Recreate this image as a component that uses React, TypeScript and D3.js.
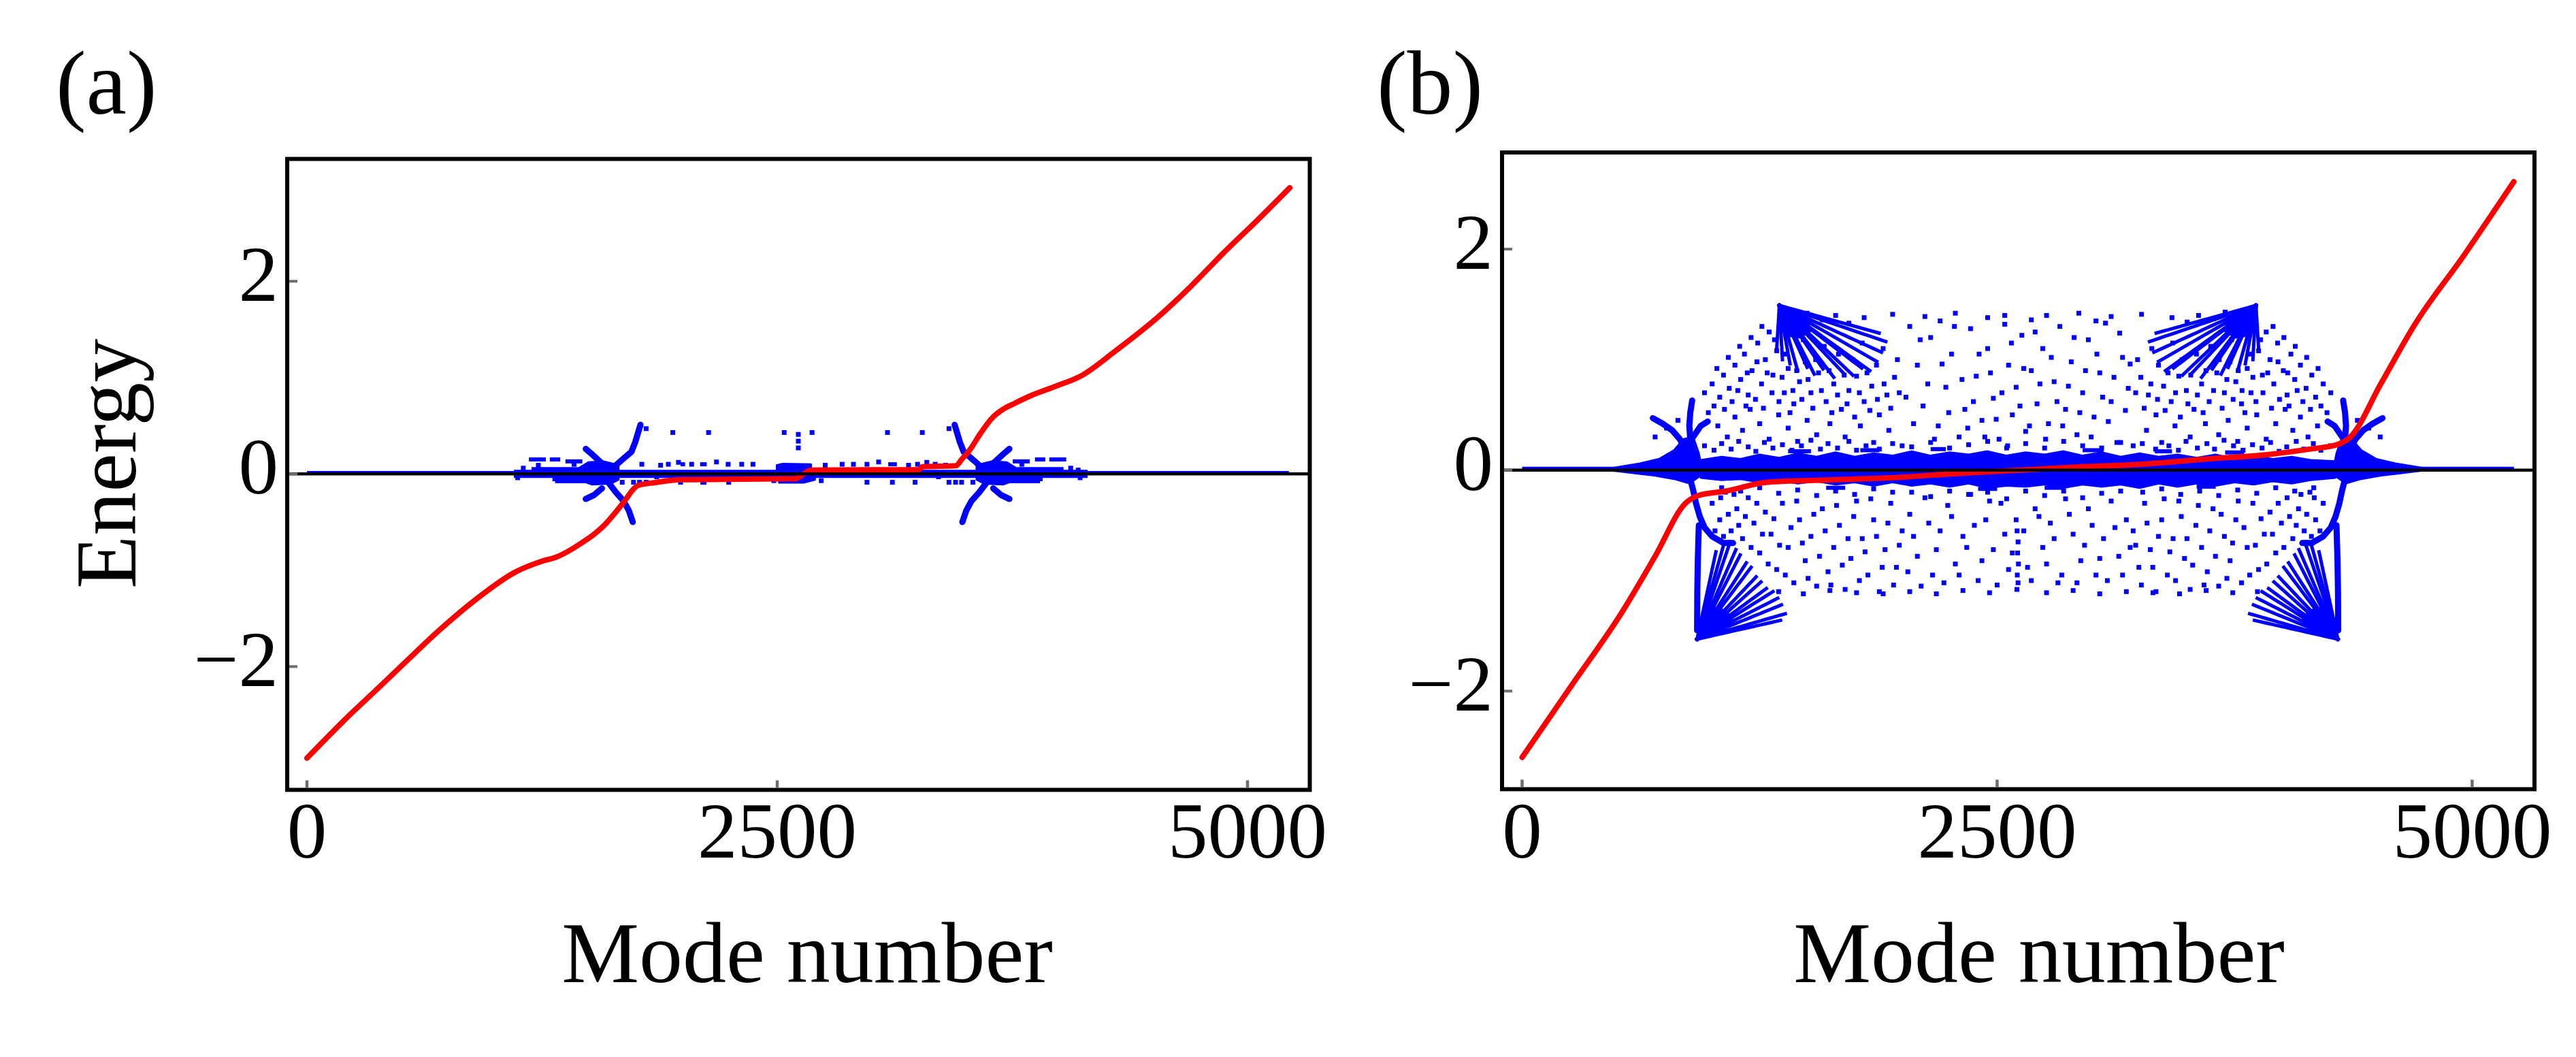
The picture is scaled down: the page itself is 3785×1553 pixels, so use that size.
import React from "react";
import * as d3 from "d3";

type Pt = [number, number];
type Bar = [number, number, number];
type Fan = { tip: Pt; ends: Pt[] };

const W = 3785;
const H = 1553;
const FONT = "'Liberation Serif', Tinos, 'Times New Roman', Times, 'DejaVu Serif', serif";
const BLUE = "#0000ff";
const RED = "#ff0000";
const TICK = "#6e6e6e";

const xTickValues = [0, 2500, 5000];
const yTickValues = [-2, 0, 2];
const xAxisTitle = "Mode number";
const yAxisTitle = "Energy";

// ---------------- panel (a) ----------------
const redA: Pt[] = [
  [0, -2.95], [228, -2.5], [359, -2.26], [520, -1.96], [705, -1.62], [900, -1.3], [1107, -1.02],
  [1244, -0.91], [1330, -0.86], [1400, -0.79], [1465, -0.71], [1530, -0.62], [1577, -0.54],
  [1640, -0.4], [1700, -0.25], [1730, -0.17], [1760, -0.12], [1850, -0.09], [1986, -0.06],
  [2594, -0.05], [2640, 0.0], [2677, 0.04], [3253, 0.045], [3270, 0.075], [3450, 0.085],
  [3480, 0.15], [3524, 0.25], [3580, 0.42], [3647, 0.59], [3700, 0.67], [3759, 0.73],
  [3857, 0.82], [3980, 0.91], [4117, 1.02], [4300, 1.28], [4519, 1.62], [4700, 1.95],
  [4865, 2.28], [5050, 2.63], [5224, 2.97],
];

const baseA: Pt[][] = [
  [[0, 0.015], [5220, 0.015]],
  [[1100, 0.027], [4150, 0.027]],
  [[1100, -0.026], [4150, -0.026]],
];

const barsA: Bar[] = [
  [3752, 3842, 0.13], [3870, 3925, 0.15], [3946, 4036, 0.15], [3731, 3911, -0.055],
  [3773, 4022, 0.05], [3620, 3897, -0.075],
  [1374, 1464, 0.13], [1291, 1346, 0.15], [1180, 1270, 0.15], [1305, 1485, -0.055],
  [1194, 1443, 0.05], [1319, 1596, -0.075],
  [1986, 2010, 0.1], [2090, 2125, 0.1], [3090, 3136, 0.1],
];

const blobsA: Pt[][] = [
  [[2498, 0.09], [2530, 0.105], [2679, 0.1], [2679, 0.03], [2498, 0.03]],
  [[2510, -0.03], [2700, -0.03], [2700, -0.06], [2640, -0.09], [2510, -0.09]],
  [[3560, 0.09], [3640, 0.13], [3720, 0.12], [3770, 0.06], [3770, -0.06], [3700, -0.11], [3600, -0.1], [3560, -0.06]],
  [[1656, 0.09], [1576, 0.13], [1496, 0.12], [1446, 0.06], [1446, -0.06], [1516, -0.11], [1616, -0.1], [1656, -0.06]],
];

const branchesA: Pt[][] = [
  [[3443, 0.51], [3457, 0.42], [3471, 0.33], [3491, 0.23], [3533, 0.16], [3574, 0.09], [3610, 0.03]],
  [[3484, -0.5], [3505, -0.38], [3533, -0.28], [3574, -0.19], [3609, -0.1], [3625, -0.02]],
  [[3648, 0.11], [3704, 0.21], [3734, 0.26]],
  [[3648, -0.15], [3690, -0.22], [3734, -0.26]],
  [[1773, 0.51], [1759, 0.42], [1745, 0.33], [1725, 0.23], [1683, 0.16], [1642, 0.09], [1606, 0.03]],
  [[1732, -0.5], [1711, -0.38], [1683, -0.28], [1642, -0.19], [1607, -0.1], [1591, -0.02]],
  [[1568, 0.11], [1512, 0.21], [1482, 0.26]],
  [[1568, -0.15], [1526, -0.22], [1482, -0.26]],
];

const fansA: Fan[] = [];

const dotsA: Pt[] = [
  [1803, 0.47], [1945, 0.43], [2135, 0.43], [2537, 0.43], [2685, 0.43], [3086, 0.43], [3271, 0.43], [3413, 0.47],
  [2612, 0.41], [2612, 0.34], [2612, 0.27],
  [1780, 0.1], [1880, 0.09], [1921, 0.1], [1975, 0.12], [2045, 0.1], [2177, 0.124], [2239, 0.1],
  [2311, 0.1], [2371, 0.1], [2755, 0.09], [2845, 0.1], [2905, 0.1], [2977, 0.1], [3039, 0.124],
  [3198, 0.09], [3246, 0.1], [3295, 0.12], [3340, 0.1], [3395, 0.09],
  [1986, -0.087], [2111, -0.087], [2242, -0.087], [2482, -0.07], [2734, -0.07], [2977, -0.087],
  [3112, -0.087], [3233, -0.087], [3357, -0.03], [3413, -0.087], [3448, -0.087], [3480, -0.087],
  [3540, -0.087], [1859, -0.03], [1803, -0.087], [1768, -0.087], [1736, -0.087], [1676, -0.087],
  [1596, -0.087], [2104, -0.087], [1150, 0.06], [1230, 0.09], [1420, 0.1], [3800, 0.1], [4060, 0.06],
  [4100, 0.04], [1120, -0.04], [4110, -0.04],
];

// ---------------- panel (b) ----------------
const redB: Pt[] = [
  [0, -2.6], [260, -1.95], [524, -1.29], [700, -0.78], [860, -0.3], [928, -0.23], [1072, -0.19],
  [1292, -0.11], [1600, -0.09], [1933, -0.07], [2300, -0.03], [2625, 0.0], [2950, 0.03],
  [3231, 0.05], [3600, 0.1], [3923, 0.14], [4144, 0.19], [4288, 0.23], [4359, 0.3],
  [4519, 0.78], [4695, 1.31], [4959, 1.95], [5219, 2.61],
];

const baseB: Pt[][] = [[[0, 0.017], [5220, 0.017]]];

const barsB: Bar[] = [
  [1400, 1520, 0.17], [1780, 1880, 0.18], [2150, 2230, 0.19], [2950, 3060, 0.18], [3330, 3420, 0.17],
  [3700, 3800, 0.16], [1600, 1700, -0.16], [2400, 2500, -0.17], [2750, 2850, -0.16], [3550, 3650, -0.15],
];

const blobsB: Pt[][] = [
  [[940, 0.09], [1050, 0.12], [1150, 0.1], [1250, 0.14], [1350, 0.11], [1450, 0.15], [1550, 0.12],
   [1650, 0.16], [1750, 0.12], [1850, 0.15], [1950, 0.13], [2050, 0.17], [2150, 0.13], [2250, 0.16],
   [2350, 0.14], [2450, 0.17], [2550, 0.13], [2650, 0.16], [2750, 0.14], [2850, 0.17], [2950, 0.13],
   [3050, 0.16], [3150, 0.12], [3250, 0.15], [3350, 0.12], [3450, 0.14], [3550, 0.11], [3650, 0.14],
   [3750, 0.1], [3850, 0.13], [3950, 0.1], [4050, 0.12], [4150, 0.09], [4280, 0.08],
   [4280, -0.07], [4150, -0.09], [4050, -0.12], [3950, -0.1], [3850, -0.13], [3750, -0.11], [3650, -0.14],
   [3550, -0.12], [3450, -0.15], [3350, -0.12], [3250, -0.16], [3150, -0.13], [3050, -0.15], [2950, -0.13],
   [2850, -0.16], [2750, -0.13], [2650, -0.15], [2550, -0.14], [2450, -0.16], [2350, -0.12], [2250, -0.15],
   [2150, -0.12], [2050, -0.14], [1950, -0.11], [1850, -0.14], [1750, -0.11], [1650, -0.13], [1550, -0.1],
   [1450, -0.12], [1350, -0.09], [1250, -0.11], [1150, -0.08], [1050, -0.09], [940, -0.07]],
  [[480, 0.02], [620, 0.06], [720, 0.1], [800, 0.18], [850, 0.28], [900, 0.3], [930, 0.15], [945, 0.02],
   [930, -0.06], [880, -0.12], [800, -0.08], [700, -0.05], [600, -0.03], [480, -0.005]],
  [[4736, 0.02], [4596, 0.06], [4496, 0.1], [4416, 0.18], [4366, 0.28], [4316, 0.3], [4286, 0.15], [4271, 0.02],
   [4286, -0.06], [4336, -0.12], [4416, -0.08], [4516, -0.05], [4616, -0.03], [4736, -0.005]],
  [[1350, 1.5], [1430, 1.44], [1500, 1.36], [1520, 1.26], [1460, 1.2], [1390, 1.22], [1350, 1.32]],
  [[3866, 1.5], [3786, 1.44], [3716, 1.36], [3696, 1.26], [3756, 1.2], [3826, 1.22], [3866, 1.32]],
  [[921, -1.53], [1000, -1.47], [1080, -1.42], [1110, -1.33], [1050, -1.26], [990, -1.24], [945, -1.36]],
  [[4293, -1.53], [4214, -1.47], [4134, -1.42], [4104, -1.33], [4164, -1.26], [4224, -1.24], [4269, -1.36]],
];

const fansB: Fan[] = [
  { tip: [1354, 1.49], ends: [[1340, 1.1], [1370, 1.0], [1410, 0.96], [1450, 0.9], [1500, 0.93], [1540, 0.86], [1590, 0.9], [1640, 0.84], [1690, 0.88], [1740, 0.86], [1790, 0.92], [1830, 0.9], [1870, 0.98], [1900, 1.06], [1920, 1.16], [1880, 1.24]] },
  { tip: [3862, 1.49], ends: [[3876, 1.1], [3846, 1.0], [3806, 0.96], [3766, 0.9], [3716, 0.93], [3676, 0.86], [3626, 0.9], [3576, 0.84], [3526, 0.88], [3476, 0.86], [3426, 0.92], [3386, 0.9], [3346, 0.98], [3316, 1.06], [3296, 1.16], [3336, 1.24]] },
  { tip: [921, -1.53], ends: [[1020, -0.74], [1060, -0.68], [1095, -0.65], [1125, -0.72], [1150, -0.76], [1180, -0.84], [1205, -0.88], [1235, -0.96], [1265, -1.0], [1295, -1.06], [1320, -1.1], [1345, -1.16], [1365, -1.22], [1385, -1.3], [1360, -1.36]] },
  { tip: [4293, -1.53], ends: [[4194, -0.74], [4154, -0.68], [4119, -0.65], [4089, -0.72], [4064, -0.76], [4034, -0.84], [4009, -0.88], [3979, -0.96], [3949, -1.0], [3919, -1.06], [3894, -1.1], [3869, -1.16], [3849, -1.22], [3829, -1.3], [3854, -1.36]] },
];

const branchesB: Pt[][] = [
  [[688, 0.47], [740, 0.42], [790, 0.36], [830, 0.28], [860, 0.18]],
  [[895, 0.63], [885, 0.52], [880, 0.4], [885, 0.28]],
  [[900, 0.3], [940, 0.4], [977, 0.44]],
  [[880, -0.05], [900, -0.18], [915, -0.3], [935, -0.42], [960, -0.52], [1000, -0.6], [1060, -0.66], [1110, -0.66]],
  [[4528, 0.47], [4476, 0.42], [4426, 0.36], [4386, 0.28], [4356, 0.18]],
  [[4321, 0.63], [4331, 0.52], [4336, 0.4], [4331, 0.28]],
  [[4316, 0.3], [4276, 0.4], [4239, 0.44]],
  [[4336, -0.05], [4316, -0.18], [4301, -0.3], [4281, -0.42], [4256, -0.52], [4216, -0.6], [4156, -0.66], [4106, -0.66]],
  [[930, -0.5], [925, -0.8], [922, -1.1], [921, -1.45]],
  [[4286, -0.5], [4291, -0.8], [4294, -1.1], [4295, -1.45]],
];

const dotsB: Pt[] = [
  [1500, 1.42], [1650, 1.4], [1800, 1.38], [1950, 1.41], [2120, 1.39], [2280, 1.42], [2450, 1.38],
  [2760, 1.4], [2930, 1.42], [3100, 1.39], [3260, 1.41], [3420, 1.38], [3560, 1.4], [3700, 1.43],
  [1580, 1.36], [1720, 1.33], [2200, 1.35], [2540, 1.4], [2680, 1.36], [3020, 1.35], [3500, 1.34], [3640, 1.37],
  [960, 0.7], [1000, 0.78], [1040, 0.66], [1060, 0.86], [1090, 0.74], [1120, 0.95], [1150, 0.82],
  [1170, 1.05], [1190, 0.68], [1210, 0.9], [1240, 1.15], [1260, 0.78], [1280, 1.0], [1300, 1.25],
  [1320, 0.86], [1340, 1.08], [1380, 0.7], [1400, 0.92], [1430, 0.6], [1460, 0.8], [1490, 0.98],
  [1520, 0.7], [1560, 0.88], [1600, 0.62], [1640, 0.78], [1680, 0.55], [1720, 0.72], [1760, 0.85],
  [1800, 0.62], [1840, 0.76], [1880, 0.5], [1920, 0.68], [1960, 0.84],
  [1010, 0.58], [1025, 0.92], [1065, 0.55], [1085, 1.02], [1105, 0.62], [1135, 0.72], [1145, 1.12],
  [1178, 0.58], [1185, 0.88], [1205, 1.2], [1228, 0.64], [1236, 0.98], [1262, 1.3], [1270, 0.56],
  [1290, 0.88], [1315, 0.7], [1328, 1.18], [1352, 0.62], [1368, 0.84], [1385, 1.05], [1410, 0.52],
  [1425, 0.72], [1445, 0.9], [1472, 0.64], [1480, 1.18], [1505, 0.82], [1530, 0.56], [1545, 1.0],
  [1575, 0.72], [1590, 1.12], [1615, 0.9], [1630, 0.52], [1660, 0.68], [1665, 1.05], [1695, 0.86],
  [1710, 0.6], [1740, 1.0], [1750, 0.48], [1775, 0.7], [1790, 1.15], [1815, 0.88], [1830, 0.54],
  [1865, 0.95], [1870, 0.64], [1900, 1.1], [1905, 0.78], [1940, 0.56], [1975, 1.0], [1985, 0.7],
  [700, 0.3], [760, 0.38], [820, 0.45], [980, 0.52], [1030, 0.4], [1080, 0.3], [1120, 0.48],
  [1160, 0.36], [1200, 0.55], [1250, 0.42], [1300, 0.28], [1350, 0.5], [1400, 0.38], [1450, 0.26],
  [1500, 0.45], [1550, 0.32], [1620, 0.42], [1700, 0.3], [1780, 0.4], [1850, 0.25], [1930, 0.36], [2000, 0.22],
  [960, 0.22], [1010, 0.18], [1050, 0.24], [1100, 0.19], [1140, 0.26], [1190, 0.21], [1230, 0.17],
  [1275, 0.25], [1320, 0.2], [1370, 0.23], [1420, 0.18], [1470, 0.22], [1520, 0.27], [1570, 0.19],
  [1610, 0.24], [1660, 0.2], [1720, 0.26], [1760, 0.18], [1810, 0.22], [1880, 0.19], [1950, 0.24],
  [2040, 1.3], [2080, 0.95], [2110, 0.58], [2150, 1.2], [2190, 0.4], [2230, 0.75], [2260, 1.05],
  [2300, 0.3], [2330, 0.55], [2360, 1.28], [2390, 0.85], [2420, 0.45], [2450, 1.1], [2480, 0.65],
  [2510, 0.28], [2540, 1.32], [2560, 0.95], [2580, 0.5], [2600, 0.75], [2630, 1.22], [2650, 0.35],
  [2680, 0.9], [2710, 0.6], [2740, 1.1], [2770, 0.42], [2800, 0.8], [2830, 1.3], [2860, 0.55],
  [2890, 0.98], [2920, 0.32], [2950, 0.7], [2980, 1.18], [3010, 0.48], [3040, 0.88], [3070, 1.33],
  [3100, 0.62], [3130, 0.25], [3160, 1.02], [3190, 0.74],
  [2020, 0.66], [2060, 0.42], [2095, 1.18], [2135, 0.78], [2170, 0.28], [2210, 0.96], [2245, 0.52],
  [2275, 1.3], [2315, 0.82], [2345, 0.38], [2375, 0.62], [2405, 1.05], [2435, 0.3], [2465, 0.88],
  [2495, 0.46], [2525, 0.7], [2555, 0.22], [2575, 1.15], [2620, 0.58], [2640, 0.92], [2670, 0.4],
  [2700, 1.25], [2725, 0.78], [2755, 0.28], [2785, 1.02], [2815, 0.62], [2845, 0.4], [2875, 0.76],
  [2905, 1.2], [2935, 0.52], [2965, 0.9], [2995, 0.3], [3025, 1.05], [3055, 0.66], [3085, 0.44],
  [3115, 0.84], [3145, 1.24], [3175, 0.54], [3200, 0.96],
  [2050, 0.21], [2150, 0.25], [2250, 0.2], [2350, 0.23], [2450, 0.26], [2550, 0.2], [2650, 0.24],
  [2750, 0.2], [2850, 0.26], [2950, 0.22], [3050, 0.2], [3150, 0.25],
  [4256, 0.7], [4216, 0.78], [4176, 0.66], [4156, 0.86], [4126, 0.74], [4096, 0.95], [4066, 0.82],
  [4046, 1.05], [4026, 0.68], [4006, 0.9], [3976, 1.15], [3956, 0.78], [3936, 1.0], [3916, 1.25],
  [3896, 0.86], [3876, 1.08], [3836, 0.7], [3816, 0.92], [3786, 0.6], [3756, 0.8], [3726, 0.98],
  [3696, 0.7], [3656, 0.88], [3616, 0.62], [3576, 0.78], [3536, 0.55], [3496, 0.72], [3456, 0.85],
  [3416, 0.62], [3376, 0.76], [3336, 0.5], [3296, 0.68], [3256, 0.84],
  [4204, 0.58], [4189, 0.92], [4149, 0.55], [4129, 1.02], [4109, 0.62], [4079, 0.72], [4069, 1.12],
  [4036, 0.58], [4029, 0.88], [4009, 1.2], [3986, 0.64], [3978, 0.98], [3952, 1.3], [3944, 0.56],
  [3924, 0.88], [3899, 0.7], [3886, 1.18], [3862, 0.62], [3846, 0.84], [3829, 1.05], [3804, 0.52],
  [3789, 0.72], [3769, 0.9], [3742, 0.64], [3734, 1.18], [3709, 0.82], [3684, 0.56], [3669, 1.0],
  [3639, 0.72], [3624, 1.12], [3599, 0.9], [3584, 0.52], [3554, 0.68], [3549, 1.05], [3519, 0.86],
  [3504, 0.6], [3474, 1.0], [3464, 0.48], [3439, 0.7], [3424, 1.15], [3399, 0.88], [3384, 0.54],
  [3349, 0.95], [3344, 0.64], [3314, 1.1], [3309, 0.78], [3274, 0.56], [3239, 1.0], [3229, 0.7],
  [4516, 0.3], [4456, 0.38], [4396, 0.45], [4236, 0.52], [4186, 0.4], [4136, 0.3], [4096, 0.48],
  [4056, 0.36], [4016, 0.55], [3966, 0.42], [3916, 0.28], [3866, 0.5], [3816, 0.38], [3766, 0.26],
  [3716, 0.45], [3666, 0.32], [3596, 0.42], [3516, 0.3], [3436, 0.4], [3366, 0.25], [3286, 0.36], [3216, 0.22],
  [4254, 0.22], [4204, 0.18], [4164, 0.24], [4114, 0.19], [4074, 0.26], [4024, 0.21], [3984, 0.17],
  [3939, 0.25], [3894, 0.2], [3844, 0.23], [3794, 0.18], [3744, 0.22], [3694, 0.27], [3644, 0.19],
  [3604, 0.24], [3554, 0.2], [3494, 0.26], [3454, 0.18], [3404, 0.22], [3334, 0.19], [3264, 0.24],
  [1000, -0.3], [1040, -0.45], [1070, -0.2], [1100, -0.55], [1130, -0.35], [1160, -0.62], [1190, -0.25],
  [1220, -0.48], [1250, -0.75], [1280, -0.38], [1310, -0.58], [1340, -0.9], [1370, -0.3], [1400, -0.7],
  [1430, -1.02], [1460, -0.45], [1490, -0.82], [1520, -0.6], [1550, -1.05], [1580, -0.35], [1610, -0.92],
  [1640, -0.7], [1670, -0.5], [1700, -1.08], [1730, -0.8], [1760, -0.28], [1790, -0.62], [1820, -0.95],
  [1850, -0.45], [1880, -1.1], [1910, -0.72], [1940, -0.3], [1970, -0.88], [2000, -0.55],
  [1015, -0.55], [1045, -0.25], [1060, -0.6], [1085, -0.4], [1115, -0.22], [1140, -0.5], [1175, -0.42],
  [1205, -0.7], [1235, -0.3], [1265, -0.58], [1295, -0.85], [1325, -0.44], [1355, -0.68], [1385, -0.95],
  [1415, -0.52], [1445, -0.28], [1475, -0.66], [1505, -0.98], [1535, -0.4], [1565, -0.78], [1595, -0.55],
  [1625, -1.04], [1655, -0.32], [1685, -0.86], [1715, -0.62], [1745, -0.42], [1775, -1.0], [1805, -0.74],
  [1835, -0.26], [1865, -0.6], [1895, -0.88], [1925, -0.48], [1955, -1.04], [1985, -0.68],
  [1050, -0.16], [1150, -0.19], [1250, -0.16], [1350, -0.21], [1450, -0.18], [1550, -0.23], [1650, -0.19],
  [1750, -0.22], [1850, -0.17], [1950, -0.2],
  [1350, -1.1], [1480, -1.12], [1620, -1.09], [1760, -1.11], [1900, -1.12], [2040, -1.1], [2180, -1.12],
  [2320, -1.09], [2460, -1.11], [2760, -1.11], [2900, -1.09], [3040, -1.12], [3180, -1.1], [3320, -1.11],
  [3460, -1.12], [3600, -1.09], [3740, -1.11], [3870, -1.1],
  [2040, -0.4], [2080, -0.78], [2120, -0.25], [2160, -0.95], [2200, -0.55], [2240, -0.32], [2280, -0.85],
  [2320, -0.6], [2360, -0.22], [2400, -1.0], [2440, -0.45], [2480, -0.72], [2520, -0.3], [2560, -0.9],
  [2660, -0.88], [2700, -0.35], [2740, -0.7], [2780, -0.48], [2820, -1.02], [2860, -0.26], [2900, -0.58],
  [2940, -0.82], [2980, -0.35], [3020, -0.95], [3060, -0.62], [3100, -0.28], [3140, -0.78], [3180, -0.45],
  [2030, -0.92], [2060, -0.6], [2100, -1.05], [2140, -0.48], [2180, -0.72], [2220, -1.02], [2260, -0.42],
  [2300, -0.95], [2340, -0.7], [2380, -0.5], [2420, -0.82], [2460, -0.28], [2500, -1.04], [2540, -0.58],
  [2580, -0.75], [2640, -0.55], [2680, -1.0], [2720, -0.42], [2760, -0.85], [2800, -0.62], [2840, -0.95],
  [2880, -0.4], [2920, -1.02], [2960, -0.68], [3000, -0.5], [3040, -0.8], [3080, -1.0], [3120, -0.52],
  [3160, -0.95], [3200, -0.7],
  [2050, -0.2], [2150, -0.24], [2250, -0.19], [2350, -0.22], [2450, -0.2], [2550, -0.26], [2650, -0.19],
  [2750, -0.23], [2850, -0.19], [2950, -0.25], [3050, -0.21], [3150, -0.19],
  [2600, -0.45], [2605, -0.55], [2610, -0.65], [2608, -0.75], [2612, -0.85], [2606, -0.95], [2610, -1.02], [2604, -1.08],
  [4216, -0.3], [4176, -0.45], [4146, -0.2], [4116, -0.55], [4086, -0.35], [4056, -0.62], [4026, -0.25],
  [3996, -0.48], [3966, -0.75], [3936, -0.38], [3906, -0.58], [3876, -0.9], [3846, -0.3], [3816, -0.7],
  [3786, -1.02], [3756, -0.45], [3726, -0.82], [3696, -0.6], [3666, -1.05], [3636, -0.35], [3606, -0.92],
  [3576, -0.7], [3546, -0.5], [3516, -1.08], [3486, -0.8], [3456, -0.28], [3426, -0.62], [3396, -0.95],
  [3366, -0.45], [3336, -1.1], [3306, -0.72], [3276, -0.3], [3246, -0.88], [3216, -0.55],
  [4199, -0.55], [4169, -0.25], [4154, -0.6], [4129, -0.4], [4099, -0.22], [4074, -0.5], [4039, -0.42],
  [4009, -0.7], [3979, -0.3], [3949, -0.58], [3919, -0.85], [3889, -0.44], [3859, -0.68], [3829, -0.95],
  [3799, -0.52], [3769, -0.28], [3739, -0.66], [3709, -0.98], [3679, -0.4], [3649, -0.78], [3619, -0.55],
  [3589, -1.04], [3559, -0.32], [3529, -0.86], [3499, -0.62], [3469, -0.42], [3439, -1.0], [3409, -0.74],
  [3379, -0.26], [3349, -0.6], [3319, -0.88], [3289, -0.48], [3259, -1.04], [3229, -0.68],
  [4166, -0.16], [4066, -0.19], [3966, -0.16], [3866, -0.21], [3766, -0.18], [3666, -0.23], [3566, -0.19],
  [3466, -0.22], [3366, -0.17], [3266, -0.2],
];

interface PanelCfg {
  id: string;
  tag: string;
  tagX: number;
  tagY: number;
  frame: { left: number; right: number; top: number; bottom: number };
  xDomain: [number, number];
  yDomain: [number, number];
  xTitleX: number;
  showYTitle: boolean;
  red: Pt[];
  base: Pt[][];
  bars: Bar[];
  blobs: Pt[][];
  branches: Pt[][];
  fans: Fan[];
  dots: Pt[];
}

const panelA: PanelCfg = {
  id: "a", tag: "(a)", tagX: 82, tagY: 167,
  frame: { left: 422, right: 1924.5, top: 233.5, bottom: 1160.5 },
  xDomain: [-105, 5331], yDomain: [-3.28, 3.27],
  xTitleX: 1186, showYTitle: true,
  red: redA, base: baseA, bars: barsA, blobs: blobsA, branches: branchesA, fans: fansA, dots: dotsA,
};

const panelB: PanelCfg = {
  id: "b", tag: "(b)", tagX: 2023, tagY: 167,
  frame: { left: 2207, right: 3724, top: 224, bottom: 1159.5 },
  xDomain: [-105.6, 5328], yDomain: [-2.888, 2.875],
  xTitleX: 2996, showYTitle: false,
  red: redB, base: baseB, bars: barsB, blobs: blobsB, branches: branchesB, fans: fansB, dots: dotsB,
};

const fmt = (v: number) => (v < 0 ? "\u2212" + Math.abs(v) : String(v));
const textStyle = { fontFamily: FONT };

function Panel({ cfg }: { cfg: PanelCfg }) {
  const f = cfg.frame;
  const x = d3.scaleLinear().domain(cfg.xDomain).range([f.left, f.right]);
  const y = d3.scaleLinear().domain(cfg.yDomain).range([f.bottom, f.top]);
  const line = d3.line<Pt>().x((d) => x(d[0])).y((d) => y(d[1]));
  const smooth = d3.line<Pt>().x((d) => x(d[0])).y((d) => y(d[1])).curve(d3.curveMonotoneX);
  const clipId = `clip-${cfg.id}`;
  const ds = 7;
  return (
    <g>
      <defs>
        <clipPath id={clipId}>
          <rect x={f.left} y={f.top} width={f.right - f.left} height={f.bottom - f.top} />
        </clipPath>
      </defs>
      <g clipPath={`url(#${clipId})`}>
        {cfg.blobs.map((b, i) => (
          <path key={`bl${i}`} d={(line(b) || "") + "Z"} fill={BLUE} stroke={BLUE} strokeWidth={3} strokeLinejoin="round" />
        ))}
        {cfg.fans.map((fan, i) => (
          <g key={`fn${i}`}>
            {fan.ends.map((e, j) => (
              <path key={j} d={line([fan.tip, e]) || ""} stroke={BLUE} strokeWidth={5} fill="none" strokeLinecap="square" strokeDasharray="9 4" />
            ))}
          </g>
        ))}
        {cfg.base.map((b, i) => (
          <path key={`ba${i}`} d={line(b) || ""} fill="none" stroke={BLUE} strokeWidth={4.5} />
        ))}
        {cfg.bars.map(([m1, m2, e], i) => (
          <line key={`br${i}`} x1={x(m1)} x2={x(m2)} y1={y(e)} y2={y(e)} stroke={BLUE} strokeWidth={6} />
        ))}
        {cfg.branches.map((b, i) => (
          <path key={`bh${i}`} d={line(b) || ""} fill="none" stroke={BLUE} strokeWidth={9} strokeLinecap="round" strokeLinejoin="round" />
        ))}
        {cfg.dots.map(([m, e], i) => (
          <rect key={`d${i}`} x={x(m) - ds / 2} y={y(e) - ds / 2} width={ds} height={ds} fill={BLUE} />
        ))}
        <path d={smooth(cfg.red) || ""} fill="none" stroke={RED} strokeWidth={8} strokeLinejoin="round" strokeLinecap="round" />
        <line x1={f.left} x2={f.right} y1={y(0)} y2={y(0)} stroke="#000" strokeWidth={4.5} />
      </g>
      <rect x={f.left} y={f.top} width={f.right - f.left} height={f.bottom - f.top} fill="none" stroke="#000" strokeWidth={6} />
      {xTickValues.map((t) => (
        <g key={`xt${t}`}>
          <line x1={x(t)} x2={x(t)} y1={f.bottom - 3} y2={f.bottom - 14} stroke={TICK} strokeWidth={4.5} />
          <text x={x(t)} y={1260} textAnchor="middle" fontSize={117} style={textStyle} fill="#000">
            {fmt(t)}
          </text>
        </g>
      ))}
      {yTickValues.map((t) => (
        <g key={`yt${t}`}>
          <line x1={f.left + 3} x2={f.left + 15} y1={y(t)} y2={y(t)} stroke={TICK} strokeWidth={4} />
          <text x={f.left - 13} y={y(t) + 29} textAnchor="end" fontSize={117} style={textStyle} fill="#000">
            {fmt(t)}
          </text>
        </g>
      ))}
      <text x={cfg.xTitleX} y={1443} textAnchor="middle" fontSize={128} style={textStyle} fill="#000">
        {xAxisTitle}
      </text>
      {cfg.showYTitle && (
        <text transform="translate(199,865) rotate(-90)" fontSize={128} style={textStyle} fill="#000">
          {yAxisTitle}
        </text>
      )}
      <text x={cfg.tagX} y={cfg.tagY} fontSize={134} style={textStyle} fill="#000">
        {cfg.tag}
      </text>
    </g>
  );
}

export default function App() {
  return (
    <svg
      width={W}
      height={H}
      viewBox={`0 0 ${W} ${H}`}
      style={{ position: "absolute", left: 0, top: 0, background: "#fff" }}
    >
      <rect x={0} y={0} width={W} height={H} fill="#fff" />
      <Panel cfg={panelA} />
      <Panel cfg={panelB} />
    </svg>
  );
}
